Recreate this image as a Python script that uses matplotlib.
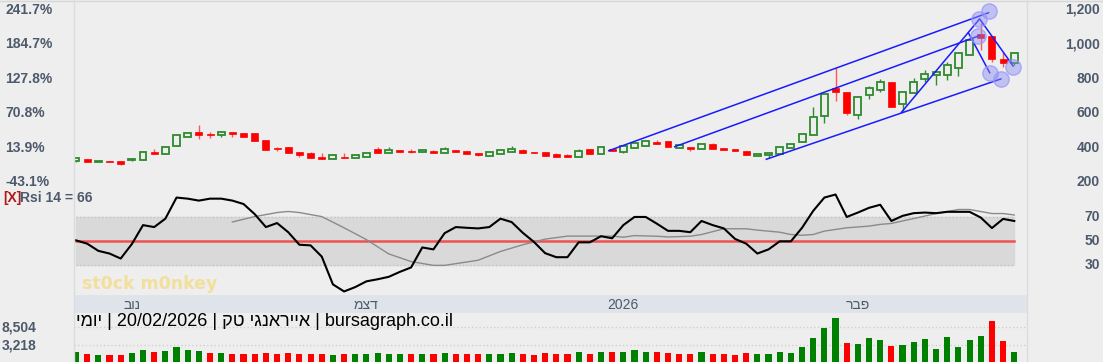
import numpy as np
import matplotlib
matplotlib.use('Agg')
import matplotlib.pyplot as plt
from matplotlib.patches import Rectangle
from matplotlib.transforms import blended_transform_factory

plt.rcParams['font.family'] = ['Liberation Sans', 'DejaVu Sans']

# daily candles
opens = [320, 332, 316, 322, 322, 326, 328, 376, 363, 409, 462, 489, 477, 473, 489, 487, 483, 444, 398, 405,
         374, 367, 347, 332, 347, 337, 343, 392, 367, 384, 382, 372, 382, 367, 384, 380, 369, 353, 363, 376,
         384, 376, 374, 361, 355, 345, 392, 361, 394, 376, 396, 407, 434, 440, 398, 404, 392, 419, 400, 390,
         380, 353, 355, 363, 396, 432, 473, 584, 746, 725, 589, 706, 735, 781, 653, 715, 797, 822, 822, 861,
         938, 1058, 1049, 917, 890]
highs = [339, 332, 324, 322, 322, 340, 376, 392, 405, 477, 491, 529, 492, 493, 491, 487, 483, 444, 405, 405,
         374, 374, 370, 363, 370, 359, 369, 403, 403, 384, 390, 384, 388, 403, 384, 380, 369, 376, 388, 409,
         392, 376, 374, 367, 361, 392, 392, 401, 394, 409, 425, 436, 444, 440, 413, 404, 419, 429, 400, 394,
         380, 365, 370, 405, 423, 481, 634, 714, 861, 725, 702, 758, 797, 781, 725, 807, 851, 851, 900, 958,
         1035, 1122, 1049, 958, 952]
lows = [319, 318, 316, 318, 297, 322, 328, 365, 363, 409, 462, 448, 454, 463, 462, 464, 440, 388, 382, 370,
        347, 341, 336, 332, 341, 337, 343, 369, 367, 374, 367, 372, 370, 367, 376, 365, 351, 353, 363, 376,
        370, 370, 353, 347, 343, 345, 365, 361, 380, 368, 396, 407, 421, 405, 398, 382, 392, 394, 384, 378,
        359, 351, 339, 363, 396, 432, 473, 545, 673, 589, 564, 681, 725, 638, 613, 715, 783, 764, 793, 818,
        938, 967, 895, 870, 880]
closes = [338, 318, 324, 318, 303, 336, 376, 365, 405, 473, 485, 475, 473, 493, 479, 464, 440, 388, 390, 370,
          359, 341, 336, 355, 341, 359, 369, 369, 386, 374, 376, 384, 370, 392, 376, 365, 357, 376, 388, 390,
          370, 370, 353, 347, 345, 380, 365, 401, 380, 409, 425, 436, 421, 405, 413, 392, 419, 394, 384, 378,
          359, 365, 370, 405, 423, 481, 578, 714, 721, 599, 692, 744, 783, 638, 725, 783, 828, 839, 880, 948,
          1025, 1035, 913, 894, 952]

volumes = [1129, 432, 233, 233, 233, 830, 1726, 1129, 1427, 2621, 1825, 1526, 830, 830, 432, 432, 432, 830, 432, 830,
           631, 432, 432, 233, 432, 531, 531, 830, 531, 531, 531, 531, 531, 830, 531, 531, 531, 531, 531, 830,
           531, 233, 830, 531, 531, 1129, 531, 1129, 1129, 1129, 1726, 1129, 1129, 830, 531, 531, 1129, 531, 531, 233,
           830, 531, 531, 1129, 830, 2621, 5308, 8292, 11278, 3815, 3517, 5308, 4711, 2920, 3218, 4114, 5009, 2024, 5606, 2621,
           4711, 5905, 10382, 4412, 1129]
# g = up day, r = down day (close vs previous close)
vol_up = ("grgrrggrgg" "ggrgrrrrrr" "rrrgrggggg" "rgrgrrrggg" "rrrrrgrgrg"
          "ggrrrrgrrr" "rggggggggr" "gggrgggggg" "ggrrg")

rsi = [50.5, 47.8, 41.9, 39.7, 35.6, 47.5, 63.0, 61.4, 68.3, 85.6, 84.7, 83.1, 84.7, 84.7, 83.1, 80.3, 72.0, 61.4,
       64.7, 57.2, 46.9, 46.4, 37.2, 14.4, 8.6, 12.2, 16.9, 18.6, 20.6, 24.7, 28.3, 44.7, 43.1, 56.4, 61.4, 60.8,
       60.3, 61.4, 68.3, 65.5, 56.7, 49.2, 40.0, 36.7, 36.7, 48.9, 48.9, 53.9, 52.2, 63.0, 69.7, 69.7, 64.2, 58.3,
       58.3, 57.2, 66.4, 63.0, 60.3, 51.7, 47.8, 39.7, 43.1, 49.7, 49.7, 60.8, 74.7, 85.6, 88.1, 69.7, 73.3, 77.2,
       79.7, 66.4, 70.6, 72.8, 73.3, 72.8, 73.9, 73.9, 73.9, 69.2, 60.6, 68.1, 66.4]
rsi_avg_idx = [14, 16, 18, 19, 20, 22, 24, 26, 28, 30, 32, 33, 34, 36, 38, 40, 42, 44, 46, 48, 49, 50, 52, 53, 55,
               56, 58, 60, 61, 63, 64, 65, 66, 67, 69, 71, 72, 73, 75, 77, 79, 80, 82, 83, 84]
rsi_avg = [65.6, 70.0, 73.3, 74.2, 73.3, 70.0, 60.8, 51.1, 39.4, 33.1, 30.0, 30.0, 31.4, 34.2, 41.4, 46.9, 51.5,
           54.0, 54.0, 54.0, 53.1, 54.4, 53.9, 53.3, 53.9, 55.3, 60.0, 60.0, 58.9, 57.2, 55.3, 54.7, 55.3, 58.1,
           60.8, 62.2, 63.6, 64.4, 68.4, 72.5, 75.8, 75.8, 72.5, 72.5, 71.3]

# drawn trend lines and their handles
line_top = ([47.7, 81.7], [382, 1184])
line_mid = ([53.6, 80.9], [405, 1051])
line_low = ([61.8, 82.8], [332, 799])
line_zig = ([73.9, 80.9, 83.9], [605, 1148, 874])
line_drop = ([79.9, 81.8], [1066, 835])
handle_x = [81.76, 80.87, 80.78, 81.83, 82.81, 83.86]
handle_y = [1196, 1146, 1051, 832, 800, 870]

price_ticks = [1200, 1000, 800, 600, 400, 200]
price_labels = ["1,200", "1,000", "800", "600", "400", "200"]
pct_labels = ["241.7%", "184.7%", "127.8%", "70.8%", "13.9%", "-43.1%"]
rsi_ticks = [70, 50, 30]
vol_ticks = [8504, 3218]
vol_labels = ["8,504", "3,218"]
month_pos = [5, 26, 49, 70]
month_labels = ["נוב", "דצמ", "2026", "פבר"]
title_parts = ["יומי", "20/02/2026", "אייראנגי טק", "bursagraph.co.il"]


def heb(s):
    # matplotlib has no bidi, so hebrew runs are flipped to visual order
    if any('\u0590' <= c <= '\u05ff' for c in s):
        return s[::-1]
    return s


BG = '#eeeeee'
LBL = '#4d5a6b'
W, H = 1103, 362


def box(x0, y0, x1, y1):
    return [x0 / W, 1 - y1 / H, (x1 - x0) / W, (y1 - y0) / H]


fig = plt.figure(figsize=(W / 100, H / 100), dpi=100, facecolor=BG)
ax = fig.add_axes(box(74, 1, 1027, 190))
ax_rsi = fig.add_axes(box(74, 190, 1027, 295))
ax_date = fig.add_axes(box(74, 295, 1027, 313))
ax_vol = fig.add_axes(box(74, 313, 1027, 362))

x0, x1 = -0.18, 85.14
for a in (ax, ax_rsi, ax_date, ax_vol):
    a.set_facecolor(BG)
    a.set_xlim(x0, x1)
    a.set_xticks([])
    a.set_yticks([])
    for s in a.spines.values():
        s.set_visible(False)
ax_date.set_facecolor('#dfe3ea')

# frame lines
fig.add_artist(plt.Line2D([0, 1], [1 - 1 / H, 1 - 1 / H], color='#d6d6d6', lw=1))
fig.add_artist(plt.Line2D([74 / W, 74 / W], [0, 1], color='#dcdcdc', lw=1))
fig.add_artist(plt.Line2D([1027 / W, 1027 / W], [0, 1], color='#dcdcdc', lw=1))

# price candles
ax.set_ylim(153.5, 1252)
bw = 0.62
for i in range(len(closes)):
    o, h, l, c = opens[i], highs[i], lows[i], closes[i]
    if c >= o:
        ax.vlines(i, l, h, color='#2e8b2e', lw=1, zorder=2)
        ax.add_patch(Rectangle((i - bw / 2, o), bw, max(c - o, 3), facecolor=BG,
                               edgecolor='#2e8b2e', lw=1.3, zorder=3))
    else:
        ax.vlines(i, l, h, color='#ff5555', lw=1, zorder=2)
        ax.add_patch(Rectangle((i - bw / 2, c), bw, max(o - c, 3), facecolor='#ff0000',
                               edgecolor='#ff0000', lw=0.5, zorder=3))

for xs, ys in (line_top, line_mid, line_low, line_zig, line_drop):
    ax.plot(xs, ys, color='#1a1aff', lw=1.1, zorder=4)
ax.plot(handle_x, handle_y, 'o', ms=11, mfc=(0.55, 0.55, 0.95, 0.45),
        mec=(0.6, 0.6, 1.0, 0.8), mew=1, ls='none', zorder=5)

tr_r = blended_transform_factory(fig.transFigure, ax.transData)
for p, lab, pl in zip(price_ticks, price_labels, pct_labels):
    fig.text(1100 / W, p, lab, transform=tr_r, ha='right', va='center',
             fontsize=10, fontweight='bold', color=LBL)
    fig.text(5 / W, p, pl, transform=tr_r, ha='left', va='center',
             fontsize=10, fontweight='bold', color=LBL)

# RSI panel
ax_rsi.set_ylim(5.7, 91.8)
ax_rsi.fill_between([0, 84], 30, 70, color='#d9d9d9', zorder=0)
ax_rsi.plot([0, 84], [70, 70], color='#c4c4c4', lw=1, ls=':')
ax_rsi.plot([0, 84], [30, 30], color='#c4c4c4', lw=1, ls=':')
ax_rsi.plot([0, 84], [50, 50], color='#ef5050', lw=1.8, zorder=1)
ax_rsi.plot(rsi_avg_idx, rsi_avg, color='#8a8a8a', lw=1, zorder=2)
ax_rsi.plot(range(len(rsi)), rsi, color='black', lw=1.5, zorder=3)
tr_rsi = blended_transform_factory(fig.transFigure, ax_rsi.transData)
for t in rsi_ticks:
    fig.text(1100 / W, t, str(t), transform=tr_rsi, ha='right', va='center',
             fontsize=10, fontweight='bold', color=LBL)
fig.text(3 / W, 1 - 198 / H, "[X]", ha='left', va='center', fontsize=10,
         fontweight='bold', color='#b01818')
fig.text(20 / W, 1 - 198 / H, "Rsi 14 = %d" % round(rsi[-1]), ha='left', va='center',
         fontsize=10, fontweight='bold', color=LBL)
fig.text(150 / W, 1 - 284 / H, "st0ck m0nkey", ha='center', va='center', fontsize=12.5,
         fontweight='bold', color='#f3df9c', family='DejaVu Sans')

# date band
for p, lab in zip(month_pos, month_labels):
    ax_date.text(p, 0.45, heb(lab), ha='center', va='center', fontsize=10, color=LBL,
                 transform=blended_transform_factory(ax_date.transData, ax_date.transAxes))

# volume
vmin = -1858
ax_vol.set_ylim(vmin, 12774)
for v in vol_ticks:
    ax_vol.axhline(v, color='#d0d0d0', lw=1, ls=':', zorder=0)
vcols = ['#008000' if u == 'g' else '#ff0000' for u in vol_up]
ax_vol.bar(range(len(volumes)), np.array(volumes) - vmin, bottom=vmin, width=0.55,
           color=vcols, zorder=2)
tr_v = blended_transform_factory(fig.transFigure, ax_vol.transData)
for v, lab in zip(vol_ticks, vol_labels):
    fig.text(2 / W, v, lab, transform=tr_v, ha='left', va='center', fontsize=10,
             fontweight='bold', color=LBL)
fig.text(76 / W, 1 - 322 / H, " | ".join(heb(p) for p in title_parts), ha='left',
         va='center', fontsize=13, color='black')

fig.savefig('out.png', dpi=100, facecolor=BG)
